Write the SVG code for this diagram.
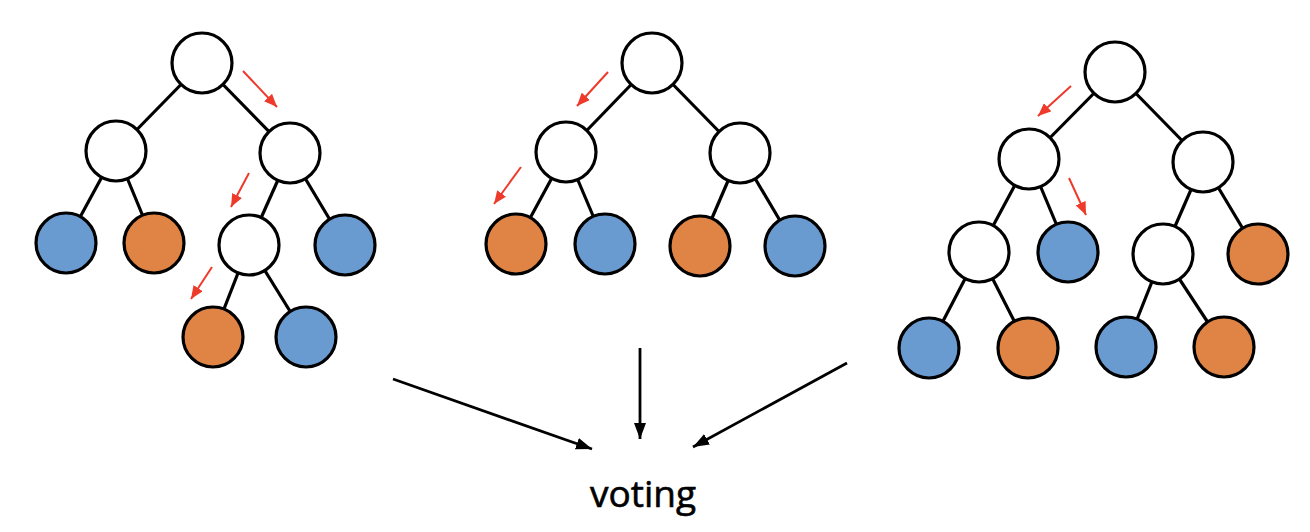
<svg xmlns="http://www.w3.org/2000/svg" width="1310" height="532" viewBox="0 0 1310 532">
<style>
.n{stroke:#000;stroke-width:3.2}
.w{fill:#fff}
.b{fill:#6A9BD0}
.o{fill:#DF8444}
.e line{stroke:#000;stroke-width:3.2}
.r line{stroke:#EE3A2A;stroke-width:2}
.k line{stroke:#000;stroke-width:2.8}
.t{font-family:"Open Sans","Liberation Sans",sans-serif;font-size:37px;fill:#000;stroke:#000;stroke-width:0.6}
</style>
<defs>
<marker id="ra" markerUnits="userSpaceOnUse" markerWidth="13" markerHeight="11" refX="13" refY="5.5" orient="auto" viewBox="0 0 13 11">
<path d="M0,0 L13,5.5 L0,11 z" fill="#EE3A2A"/>
</marker>
<marker id="ka" markerUnits="userSpaceOnUse" markerWidth="16" markerHeight="12" refX="16" refY="6" orient="auto" viewBox="0 0 16 12">
<path d="M0,0 L16,6 L0,12 z" fill="#000"/>
</marker>
</defs>
<g id="connectors">
<g class="e">
<line x1="202" y1="63" x2="116" y2="151"/>
<line x1="202" y1="63" x2="290" y2="153"/>
<line x1="116" y1="151" x2="66" y2="243"/>
<line x1="116" y1="151" x2="154" y2="243"/>
<line x1="290" y1="153" x2="249" y2="245"/>
<line x1="290" y1="153" x2="345" y2="245"/>
<line x1="249" y1="245" x2="213" y2="337"/>
<line x1="249" y1="245" x2="306" y2="337"/>
<line x1="652" y1="63" x2="566" y2="152"/>
<line x1="652" y1="63" x2="740" y2="153"/>
<line x1="566" y1="152" x2="516" y2="244"/>
<line x1="566" y1="152" x2="605" y2="244"/>
<line x1="740" y1="153" x2="700" y2="246"/>
<line x1="740" y1="153" x2="795" y2="246"/>
<line x1="1115" y1="72" x2="1029" y2="159"/>
<line x1="1115" y1="72" x2="1203" y2="162"/>
<line x1="1029" y1="159" x2="979" y2="252"/>
<line x1="1029" y1="159" x2="1068" y2="252"/>
<line x1="1203" y1="162" x2="1163" y2="254"/>
<line x1="1203" y1="162" x2="1258" y2="254"/>
<line x1="979" y1="252" x2="929" y2="348"/>
<line x1="979" y1="252" x2="1028" y2="348"/>
<line x1="1163" y1="254" x2="1126" y2="347"/>
<line x1="1163" y1="254" x2="1224" y2="347"/>
</g>
<g class="r">
<line x1="243" y1="71" x2="277" y2="107" marker-end="url(#ra)"/>
<line x1="249" y1="173" x2="231" y2="207" marker-end="url(#ra)"/>
<line x1="212" y1="267" x2="191" y2="299" marker-end="url(#ra)"/>
<line x1="608" y1="72" x2="577" y2="106" marker-end="url(#ra)"/>
<line x1="521" y1="167" x2="494" y2="204" marker-end="url(#ra)"/>
<line x1="1071" y1="86" x2="1038" y2="116" marker-end="url(#ra)"/>
<line x1="1069" y1="178" x2="1086" y2="215" marker-end="url(#ra)"/>
</g>
<g class="k">
<line x1="393" y1="379" x2="592" y2="449" marker-end="url(#ka)"/>
<line x1="640" y1="348" x2="640" y2="439" marker-end="url(#ka)"/>
<line x1="847" y1="363" x2="693" y2="447" marker-end="url(#ka)"/>
</g>
</g>
<g id="tree1">
<circle id="t1-root" class="n w" cx="202" cy="63" r="30"/>
<circle id="t1-a" class="n w" cx="116" cy="151" r="30"/>
<circle id="t1-b" class="n w" cx="290" cy="153" r="30"/>
<circle id="t1-c" class="n b" cx="66" cy="243" r="30"/>
<circle id="t1-d" class="n o" cx="154" cy="243" r="30"/>
<circle id="t1-e" class="n w" cx="249" cy="245" r="30"/>
<circle id="t1-f" class="n b" cx="345" cy="245" r="30"/>
<circle id="t1-g" class="n o" cx="213" cy="337" r="30"/>
<circle id="t1-h" class="n b" cx="306" cy="337" r="30"/>
</g>
<g id="tree2">
<circle id="t2-root" class="n w" cx="652" cy="63" r="30"/>
<circle id="t2-a" class="n w" cx="566" cy="152" r="30"/>
<circle id="t2-b" class="n w" cx="740" cy="153" r="30"/>
<circle id="t2-c" class="n o" cx="516" cy="244" r="30"/>
<circle id="t2-d" class="n b" cx="605" cy="244" r="30"/>
<circle id="t2-e" class="n o" cx="700" cy="246" r="30"/>
<circle id="t2-f" class="n b" cx="795" cy="246" r="30"/>
</g>
<g id="tree3">
<circle id="t3-root" class="n w" cx="1115" cy="72" r="30"/>
<circle id="t3-a" class="n w" cx="1029" cy="159" r="30"/>
<circle id="t3-b" class="n w" cx="1203" cy="162" r="30"/>
<circle id="t3-c" class="n w" cx="979" cy="252" r="30"/>
<circle id="t3-d" class="n b" cx="1068" cy="252" r="30"/>
<circle id="t3-e" class="n w" cx="1163" cy="254" r="30"/>
<circle id="t3-f" class="n o" cx="1258" cy="254" r="30"/>
<circle id="t3-g" class="n b" cx="929" cy="348" r="30"/>
<circle id="t3-h" class="n o" cx="1028" cy="348" r="30"/>
<circle id="t3-i" class="n b" cx="1126" cy="347" r="30"/>
<circle id="t3-j" class="n o" cx="1224" cy="347" r="30"/>
</g>
<g id="voting">
<text class="t" x="643" y="507" text-anchor="middle">voting</text>
</g>
</svg>
